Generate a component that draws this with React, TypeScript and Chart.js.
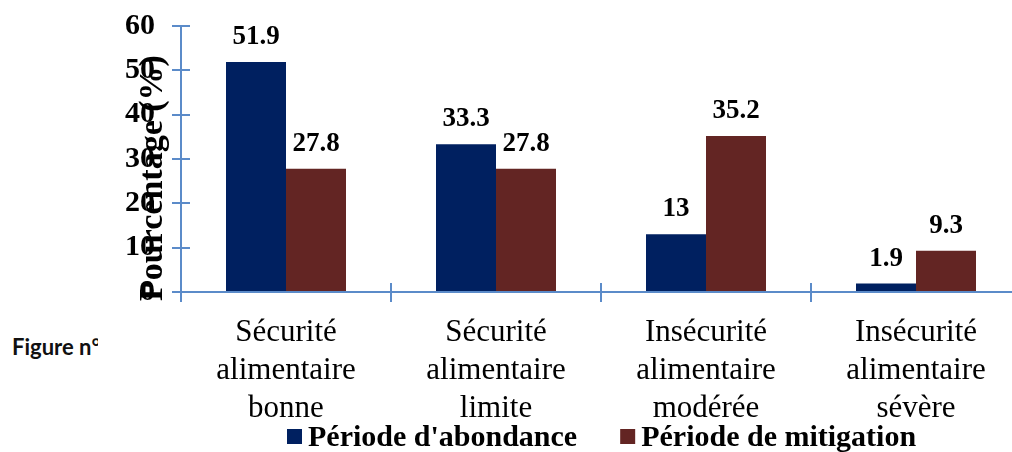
import React, { useEffect, useRef } from "react";
import { Chart, registerables } from "chart.js";

Chart.register(...registerables);

const categories: string[][] = [
  ["Sécurité", "alimentaire", "bonne"],
  ["Sécurité", "alimentaire", "limite"],
  ["Insécurité", "alimentaire", "modérée"],
  ["Insécurité", "alimentaire", "sévère"],
];
const abondance: number[] = [51.9, 33.3, 13, 1.9];
const mitigation: number[] = [27.8, 27.8, 35.2, 9.3];
const seriesLabels: string[] = ["Période d'abondance", "Période de mitigation"];
const seriesColors: string[] = ["#002060", "#632523"];
const yMin = 0;
const yMax = 60;
const yStep = 10;
const yTitle = "Pourcentage (%)";
const figureCaption = "Figure n°";

const AXIS = "#5B8BC9";
const SERIF = "Liberation Serif";

const extrasPlugin = {
  id: "extras",
  afterDraw(chart: any) {
    const ctx = chart.ctx;
    const area = chart.chartArea;
    const xs = chart.scales.x;
    const ys = chart.scales.y;
    ctx.save();
    ctx.strokeStyle = AXIS;
    ctx.lineWidth = 2;
    ys.ticks.forEach((t: any) => {
      const py = Math.round(ys.getPixelForValue(t.value));
      ctx.beginPath();
      ctx.moveTo(area.left, py);
      ctx.lineTo(area.left + 9, py);
      ctx.stroke();
    });
    const n = chart.data.labels.length;
    const step = xs.width / n;
    for (let i = 0; i <= n; i++) {
      const bx = Math.round(xs.left + i * step);
      ctx.beginPath();
      ctx.moveTo(bx, area.bottom);
      ctx.lineTo(bx, area.bottom - 9);
      ctx.stroke();
    }
    ctx.fillStyle = "#000";
    ctx.font = `bold 27px "${SERIF}"`;
    ctx.textAlign = "center";
    ctx.textBaseline = "alphabetic";
    chart.data.datasets.forEach((ds: any, di: number) => {
      const meta = chart.getDatasetMeta(di);
      meta.data.forEach((bar: any, i: number) => {
        ctx.fillText(String(ds.data[i]), bar.x, bar.y - 18);
      });
    });
    ctx.save();
    ctx.translate(162, 178);
    ctx.rotate(-Math.PI / 2);
    ctx.font = `bold 34px "${SERIF}"`;
    ctx.textAlign = "center";
    ctx.textBaseline = "alphabetic";
    ctx.fillText(yTitle, 0, 0);
    ctx.restore();
    ctx.font = `bold 30px "${SERIF}"`;
    ctx.textAlign = "left";
    ctx.textBaseline = "alphabetic";
    const box = 15;
    const gap = 6;
    const between = 43;
    let x = 287;
    chart.data.datasets.forEach((d: any) => {
      const w = ctx.measureText(d.label).width;
      ctx.fillStyle = d.backgroundColor;
      ctx.fillRect(x, 429, box, box);
      ctx.fillStyle = "#000";
      ctx.fillText(d.label, x + box + gap, 446);
      x += box + gap + w + between;
    });
    ctx.restore();
  },
};

export default function App() {
  const ref = useRef<HTMLCanvasElement | null>(null);
  useEffect(() => {
    if (!ref.current) return;
    let chart: any = null;
    let cancelled = false;
    const make = () => {
      if (cancelled || !ref.current) return;
      chart = new Chart(ref.current, {
        type: "bar",
        data: {
          labels: categories,
          datasets: [
            {
              label: seriesLabels[0],
              data: abondance,
              backgroundColor: seriesColors[0],
              categoryPercentage: 120 / 210,
              barPercentage: 1,
            },
            {
              label: seriesLabels[1],
              data: mitigation,
              backgroundColor: seriesColors[1],
              categoryPercentage: 120 / 210,
              barPercentage: 1,
            },
          ],
        },
        options: {
          responsive: false,
          animation: false,
          devicePixelRatio: 1,
          layout: { padding: { top: 26, left: 0, right: 19, bottom: 0 } },
          plugins: {
            legend: { display: false },
            tooltip: { enabled: false },
          },
          scales: {
            x: {
              grid: {
                offset: true,
                drawOnChartArea: false,
                drawTicks: true,
                tickLength: 10,
                color: AXIS,
                lineWidth: 2,
              },
              border: { color: AXIS, width: 2 },
              ticks: {
                color: "#000",
                font: { family: `"${SERIF}"`, size: 31, lineHeight: 1.23 },
                padding: 12,
                maxRotation: 0,
                autoSkip: false,
              },
              afterFit: (s: any) => {
                s.height = 160;
                s.paddingLeft = 0;
                s.paddingRight = 0;
              },
            },
            y: {
              min: yMin,
              max: yMax,
              grid: {
                drawOnChartArea: false,
                drawTicks: true,
                tickLength: 9,
                color: AXIS,
                lineWidth: 2,
              },
              border: { color: AXIS, width: 2 },
              ticks: {
                stepSize: yStep,
                color: "#000",
                font: { family: `"${SERIF}"`, size: 30, weight: "bold" },
                padding: 17,
              },
              afterFit: (s: any) => {
                s.width = 181;
                s.paddingTop = 0;
                s.paddingBottom = 0;
              },
            },
          },
        },
        plugins: [extrasPlugin],
      });
    };
    const fonts: any = (document as any).fonts;
    if (fonts && fonts.load) {
      Promise.all([
        fonts.load(`30px "${SERIF}"`),
        fonts.load(`bold 30px "${SERIF}"`),
      ])
        .catch(() => null)
        .then(make);
    } else {
      make();
    }
    return () => {
      cancelled = true;
      if (chart) chart.destroy();
    };
  }, []);
  return (
    <div
      style={{
        position: "fixed",
        left: 0,
        top: 0,
        width: 1012,
        height: 452,
        overflow: "hidden",
        background: "#fff",
      }}
    >
      <div
        style={{
          position: "absolute",
          left: 12,
          top: 334,
          width: 86,
          overflow: "hidden",
          whiteSpace: "nowrap",
          fontFamily: "Lato, 'Open Sans', sans-serif",
          fontWeight: 700,
          fontSize: 22,
          lineHeight: "26px",
          color: "#111",
        }}
      >
        {figureCaption}
      </div>
      <canvas
        ref={ref}
        width={1040}
        height={452}
        style={{ position: "absolute", left: 0, top: 0, width: 1040, height: 452 }}
      />
    </div>
  );
}
